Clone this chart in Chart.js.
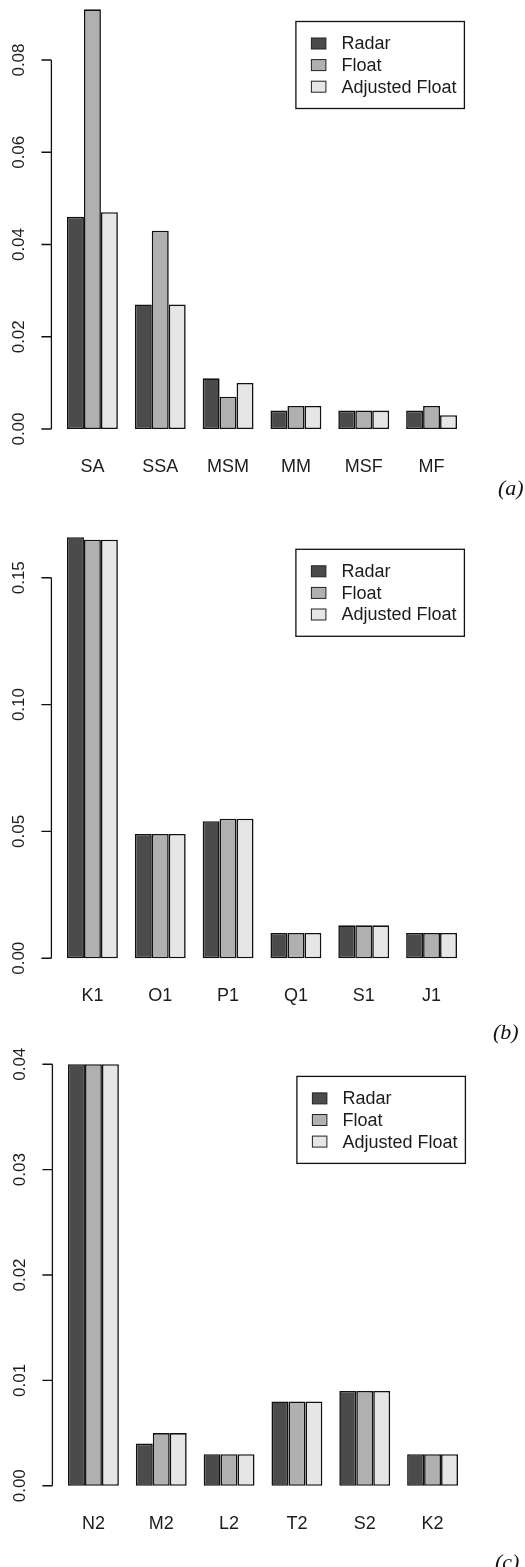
<!DOCTYPE html>
<html>
<head>
<meta charset="utf-8">
<script src="https://cdn.jsdelivr.net/npm/chart.js@4.4.1/dist/chart.umd.min.js"></script>
<style>
    html, body { margin: 0; padding: 0; background: #fff; }
    body { position: relative; width: 525px; height: 1567px; overflow: hidden; }
    .panel { position: absolute; left: 0; width: 525px; }
    .panel canvas { display: block; }
    .tag {
        position: absolute; font-family: "Liberation Serif", "DejaVu Serif", serif;
        font-style: italic; font-size: 22px; line-height: 22px; color: #111; z-index: 2;
    }
</style>
</head>
<body>
<div class="panel" id="panel-a"><canvas id="chart-a" width="525" height="529"></canvas></div>
<div class="panel" id="panel-b"><canvas id="chart-b" width="525" height="530"></canvas></div>
<div class="panel" id="panel-c"><canvas id="chart-c" width="525" height="527"></canvas></div>
<div class="tag" style="left:498px; top:477px;">(a)</div>
<div class="tag" style="left:493px; top:1021px;">(b)</div>
<div class="tag" style="left:495px; top:1551px;">(c)</div>

<script>
// --- Data ---
const seriesNames = ['Radar', 'Float', 'Adjusted Float'];
const seriesColors = ['#4b4b4b', '#b0b0b0', '#e6e6e6'];

// (a) long-period constituents
const labelsA = ['SA', 'SSA', 'MSM', 'MM', 'MSF', 'MF'];
const radarA = [0.046, 0.027, 0.011, 0.004, 0.004, 0.004];
const floatA = [0.091, 0.043, 0.007, 0.005, 0.004, 0.005];
const adjustedA = [0.047, 0.027, 0.010, 0.005, 0.004, 0.003];
const ticksA = [0, 0.02, 0.04, 0.06, 0.08];

// (b) diurnal constituents
const labelsB = ['K1', 'O1', 'P1', 'Q1', 'S1', 'J1'];
const radarB = [0.166, 0.049, 0.054, 0.010, 0.013, 0.010];
const floatB = [0.165, 0.049, 0.055, 0.010, 0.013, 0.010];
const adjustedB = [0.165, 0.049, 0.055, 0.010, 0.013, 0.010];
const ticksB = [0, 0.05, 0.10, 0.15];

// (c) semi-diurnal constituents
const labelsC = ['N2', 'M2', 'L2', 'T2', 'S2', 'K2'];
const radarC = [0.040, 0.004, 0.003, 0.008, 0.009, 0.003];
const floatC = [0.040, 0.005, 0.003, 0.008, 0.009, 0.003];
const adjustedC = [0.040, 0.005, 0.003, 0.008, 0.009, 0.003];
const ticksC = [0, 0.01, 0.02, 0.03, 0.04];

document.addEventListener('DOMContentLoaded', () => {
    const FONT = '"Liberation Sans", Arial, sans-serif';
    const TEXT = '#1c1c1c';

    // R barplot(beside=TRUE): 3 bars + 1 space per group, 4% axis expansion
    function groupCenters(n) {
        return Array.from({ length: n }, (_, i) => 2.5 + 4 * i);
    }

    // R-like left axis: line between first and last tick, outward ticks, rotated labels
    const rAxisPlugin = {
        id: 'rAxis',
        afterDraw(chart) {
            const { ctx, chartArea, scales } = chart;
            const opts = chart.options.plugins.rAxis;
            const y = scales.y, x = scales.x;
            const left = chartArea.left;
            ctx.save();
            ctx.strokeStyle = '#111';
            ctx.lineWidth = 1.3;
            ctx.beginPath();
            ctx.moveTo(left, y.getPixelForValue(opts.yTicks[0]));
            ctx.lineTo(left, y.getPixelForValue(opts.yTicks[opts.yTicks.length - 1]));
            opts.yTicks.forEach(t => {
                const py = y.getPixelForValue(t);
                ctx.moveTo(left, py);
                ctx.lineTo(left - 10, py);
            });
            ctx.stroke();

            ctx.fillStyle = TEXT;
            ctx.font = '17px ' + FONT;
            ctx.textAlign = 'center';
            ctx.textBaseline = 'middle';
            opts.yTicks.forEach(t => {
                ctx.save();
                ctx.translate(left - 32, y.getPixelForValue(t));
                ctx.rotate(-Math.PI / 2);
                ctx.fillText(t.toFixed(2), 0, 0);
                ctx.restore();
            });

            ctx.font = '18px ' + FONT;
            opts.categories.forEach((name, i) => {
                ctx.fillText(name, x.getPixelForValue(opts.centers[i]), chartArea.bottom + 21);
            });
            ctx.restore();
        }
    };

    // Boxed legend in the upper right, like R's legend()
    const boxLegendPlugin = {
        id: 'boxLegend',
        afterDraw(chart) {
            const { ctx, chartArea } = chart;
            const bx = chartArea.left + 244.5;
            const by = chartArea.top + 29;
            ctx.save();
            ctx.strokeStyle = '#111';
            ctx.lineWidth = 1.3;
            ctx.strokeRect(bx, by, 168.5, 87);
            ctx.font = '18px ' + FONT;
            ctx.textAlign = 'left';
            ctx.textBaseline = 'middle';
            chart.data.datasets.forEach((ds, i) => {
                const cy = by + 22 + i * 21.6;
                ctx.fillStyle = ds.backgroundColor;
                ctx.fillRect(bx + 15.5, cy - 5.5, 14.5, 11);
                ctx.strokeStyle = '#222';
                ctx.lineWidth = 1;
                ctx.strokeRect(bx + 15.5, cy - 5.5, 14.5, 11);
                ctx.fillStyle = TEXT;
                ctx.fillText(ds.label, bx + 45.5, cy + 1);
            });
            ctx.restore();
        }
    };

    function makePanel(cfg) {
        const panel = document.getElementById(cfg.panelId);
        panel.style.top = cfg.panelTop + 'px';
        panel.style.left = cfg.panelLeft + 'px';
        const canvas = document.getElementById(cfg.canvasId);
        const height = canvas.height;

        const centers = groupCenters(cfg.categories.length);
        const maxVal = Math.max(...cfg.series.flat());
        const yMin = -0.04 * maxVal;
        const yMax = 1.04 * maxVal;

        const datasets = cfg.series.map((values, s) => ({
            label: seriesNames[s],
            data: values.map((v, i) => ({ x: centers[i], y: v })),
            backgroundColor: seriesColors[s],
            borderColor: '#111',
            borderWidth: 1.6,
            borderSkipped: false,
            categoryPercentage: 0.75,
            barPercentage: 1.0
        }));

        return new Chart(canvas.getContext('2d'), {
            type: 'bar',
            data: { datasets },
            options: {
                responsive: false,
                animation: false,
                layout: {
                    padding: {
                        left: 51.4,
                        right: 52.4,
                        top: cfg.plotTop - cfg.panelTop,
                        bottom: height - (cfg.plotBottom - cfg.panelTop)
                    }
                },
                scales: {
                    x: {
                        type: 'linear',
                        display: false,
                        offset: false,
                        min: 0.08,
                        max: 24.92,
                        afterBuildTicks: scale => {
                            scale.ticks = centers.map(v => ({ value: v }));
                        }
                    },
                    y: {
                        type: 'linear',
                        display: false,
                        min: yMin,
                        max: yMax
                    }
                },
                plugins: {
                    legend: { display: false },
                    tooltip: { enabled: false },
                    rAxis: { yTicks: cfg.yTicks, categories: cfg.categories, centers }
                }
            },
            plugins: [rAxisPlugin, boxLegendPlugin]
        });
    }

    makePanel({
        panelId: 'panel-a', canvasId: 'chart-a', panelTop: -19, panelLeft: 0,
        plotTop: -7.5, plotBottom: 445.8,
        categories: labelsA, series: [radarA, floatA, adjustedA], yTicks: ticksA
    });
    makePanel({
        panelId: 'panel-b', canvasId: 'chart-b', panelTop: 510, panelLeft: 0,
        plotTop: 520.3, plotBottom: 975.1,
        categories: labelsB, series: [radarB, floatB, adjustedB], yTicks: ticksB
    });
    makePanel({
        panelId: 'panel-c', canvasId: 'chart-c', panelTop: 1040, panelLeft: 1,
        plotTop: 1047.4, plotBottom: 1502.6,
        categories: labelsC, series: [radarC, floatC, adjustedC], yTicks: ticksC
    });
});
</script>
</body>
</html>
